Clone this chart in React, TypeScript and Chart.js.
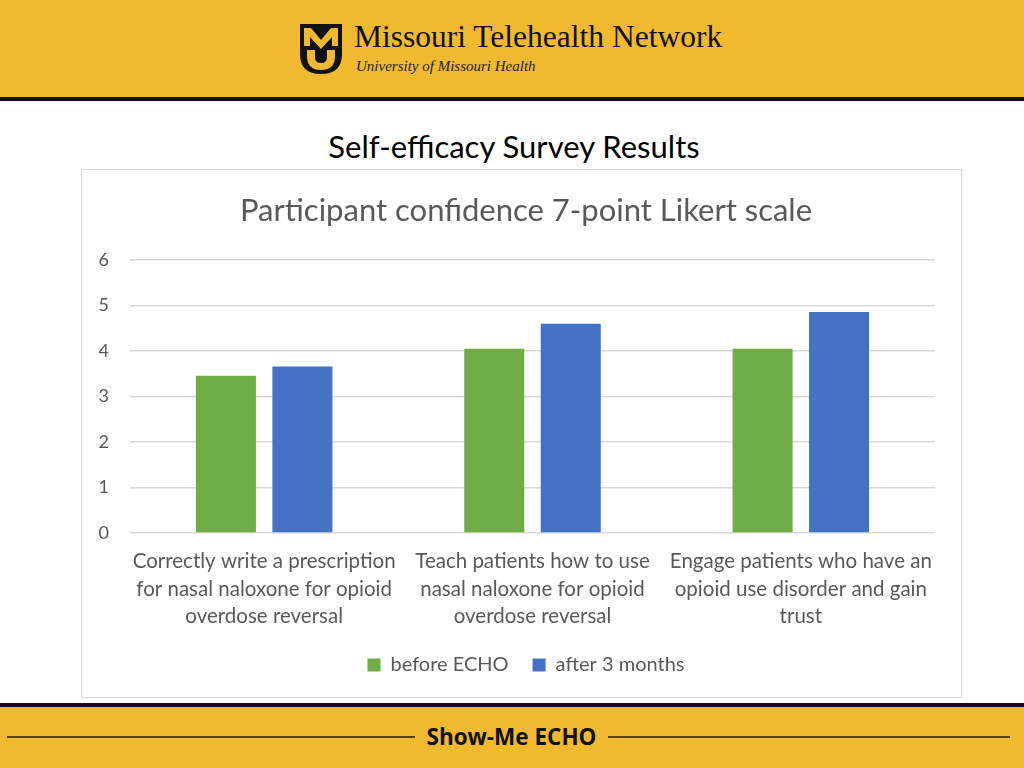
import React, { useEffect, useRef } from "react";
import { Chart, registerables } from "chart.js";

Chart.register(...registerables);

const categories: string[][] = [
  ["Correctly write a prescription", "for nasal naloxone for opioid", "overdose reversal"],
  ["Teach patients how to use", "nasal naloxone for opioid", "overdose reversal"],
  ["Engage patients who have an", "opioid use disorder and gain", "trust"],
];
const seriesNames: string[] = ["before ECHO", "after 3 months"];
const beforeEcho: number[] = [3.46, 4.05, 4.05];
const after3Months: number[] = [3.66, 4.6, 4.86];
const yTicks: number[] = [0, 1, 2, 3, 4, 5, 6];

const GOLD = "#F0B930";
const TEXT = "#595959";
const FONT = "Lato, 'Open Sans', sans-serif";

function BarChart() {
  const ref = useRef<HTMLCanvasElement | null>(null);
  useEffect(() => {
    if (!ref.current) return;
    const chart = new Chart(ref.current, {
      type: "bar",
      data: {
        labels: categories,
        datasets: [
          {
            label: seriesNames[0],
            data: beforeEcho,
            backgroundColor: "#70AD47",
            categoryPercentage: 0.57,
            barPercentage: 0.785,
          },
          {
            label: seriesNames[1],
            data: after3Months,
            backgroundColor: "#4472C4",
            categoryPercentage: 0.57,
            barPercentage: 0.785,
          },
        ],
      },
      options: {
        animation: false,
        responsive: false,
        maintainAspectRatio: false,
        layout: { padding: { left: 0, right: 0, top: 0, bottom: 13 } },
        plugins: {
          title: {
            display: true,
            text: "Participant confidence 7-point Likert scale",
            color: TEXT,
            font: { family: FONT, size: 31, weight: "normal", lineHeight: 1.2 },
            padding: { top: 22, bottom: 31 },
          },
          legend: {
            position: "bottom",
            labels: {
              color: TEXT,
              font: { family: FONT, size: 20 },
              boxWidth: 13,
              boxHeight: 13,
              padding: 24,
            },
          },
          tooltip: { enabled: false },
        },
        scales: {
          x: {
            afterFit: (scale: any) => {
              scale.height = 98;
            },
            grid: { display: false },
            border: { display: false },
            ticks: {
              color: TEXT,
              font: { family: FONT, size: 20.5, lineHeight: 1.33 },
              maxRotation: 0,
              autoSkip: false,
              padding: 7,
            },
          },
          y: {
            min: 0,
            max: 6,
            afterFit: (scale: any) => {
              scale.width = 48;
            },
            afterBuildTicks: (scale: any) => {
              scale.ticks = yTicks.map((v) => ({ value: v }));
            },
            grid: { color: "#D9D9D9", lineWidth: 1.5, drawTicks: false },
            border: { display: false },
            ticks: {
              color: TEXT,
              font: { family: FONT, size: 18 },
              padding: 21,
            },
          },
          spacer: {
            type: "linear",
            position: "right",
            display: true,
            min: 0,
            max: 6,
            afterFit: (scale: any) => {
              scale.width = 35;
            },
            grid: { display: false },
            border: { display: false },
            ticks: { display: false },
          },
        },
      },
    });
    return () => chart.destroy();
  }, []);
  return <canvas ref={ref} width={888} height={528} style={{ position: "absolute", left: 82, top: 170, width: 888, height: 528 }} />;
}

function Logo() {
  return (
    <svg width="42" height="50" viewBox="0 0 42 50" style={{ position: "absolute", left: 300, top: 24 }}>
      <path d="M0 0 H42 V30 Q42 50 21 50 Q0 50 0 30 Z" fill="#111" />
      <path d="M4 4 H11 L21 16 L31 4 H38 V22 H32 V13 L21 25 L10 13 V22 H4 Z" fill={GOLD} />
      <path d="M7 26 H15 V33 Q15 39 21 39 Q27 39 27 33 V26 H35 V32 Q35 46 21 46 Q7 46 7 32 Z" fill={GOLD} />
    </svg>
  );
}

export default function App() {
  return (
    <div style={{ position: "absolute", left: 0, top: 0, width: 1024, height: 768, background: "#fff", overflow: "hidden" }}>
      <div style={{ position: "absolute", left: 0, top: 0, width: 1024, height: 97, background: GOLD }} />
      <div style={{ position: "absolute", left: 0, top: 97, width: 1024, height: 4, background: "#111" }} />
      <Logo />
      <div style={{ position: "absolute", left: 354, top: 18, fontFamily: "'Liberation Serif', serif", fontSize: 31.5, color: "#111", whiteSpace: "nowrap", lineHeight: "38px" }}>
        Missouri Telehealth Network
      </div>
      <div style={{ position: "absolute", left: 356, top: 56, fontFamily: "'Liberation Serif', serif", fontStyle: "italic", fontSize: 15, color: "#222", whiteSpace: "nowrap", lineHeight: "20px" }}>
        University of Missouri Health
      </div>
      <div style={{ position: "absolute", left: 0, top: 126, width: 1024, textAlign: "center", fontFamily: FONT, fontSize: 31, color: "#000", lineHeight: "40px", paddingLeft: 2 }}>
        Self-efficacy Survey Results
      </div>
      <div style={{ position: "absolute", left: 81, top: 169, width: 879, height: 527, border: "1.5px solid #D9D9D9" }} />
      <BarChart />
      <div style={{ position: "absolute", left: 0, top: 703, width: 1024, height: 4, background: "#111" }} />
      <div style={{ position: "absolute", left: 0, top: 707, width: 1024, height: 61, background: GOLD }} />
      <div style={{ position: "absolute", left: 7, top: 736, width: 408, height: 2, background: "#5A3D00" }} />
      <div style={{ position: "absolute", left: 608, top: 736, width: 402, height: 2, background: "#5A3D00" }} />
      <div style={{ position: "absolute", left: 405, top: 722, width: 213, textAlign: "center", fontFamily: "'Open Sans', sans-serif", fontWeight: 700, fontSize: 22.5, color: "#111", lineHeight: "30px", whiteSpace: "nowrap" }}>
        Show-Me ECHO
      </div>
    </div>
  );
}
